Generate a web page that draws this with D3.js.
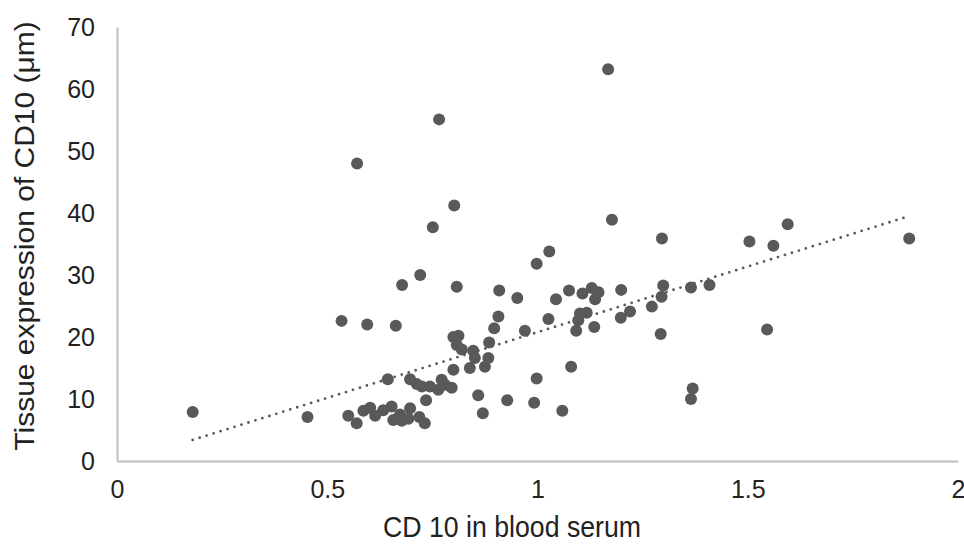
<!DOCTYPE html>
<html>
<head>
<meta charset="utf-8">
<script src="https://cdn.jsdelivr.net/npm/d3@7"></script>
<style>
  html, body { margin: 0; padding: 0; background: #fff; }
  svg { display: block; }
  text { font-family: "Liberation Sans", Arial, sans-serif; fill: #222; }
</style>
</head>
<body>
<svg id="chart" width="964" height="544"></svg>
<script>
// ---- data ----
const serumCD10 = [
  0.18, 0.453, 0.534, 0.550, 0.570, 0.571, 0.586, 0.595, 0.602, 0.614,
  0.633, 0.644, 0.653, 0.657, 0.663, 0.673, 0.677, 0.678, 0.693, 0.697,
  0.697, 0.713, 0.719, 0.721, 0.725, 0.732, 0.735, 0.744, 0.751, 0.764,
  0.766, 0.772, 0.780, 0.796, 0.800, 0.800, 0.802, 0.808, 0.808, 0.812,
  0.820, 0.839, 0.847, 0.851, 0.859, 0.870, 0.875, 0.883, 0.885, 0.897,
  0.907, 0.909, 0.928, 0.952, 0.970, 0.992, 0.998, 0.998, 1.026, 1.028,
  1.044, 1.059, 1.075, 1.080, 1.092, 1.097, 1.101, 1.107, 1.117, 1.129,
  1.135, 1.137, 1.145, 1.168, 1.177, 1.198, 1.199, 1.220, 1.272, 1.293,
  1.295, 1.296, 1.299, 1.365, 1.365, 1.369, 1.409, 1.504, 1.546, 1.561,
  1.595, 1.884
];
const tissueCD10 = [
  7.9, 7.1, 22.6, 7.3, 6.1, 48.0, 8.1, 22.0, 8.6, 7.3,
  8.2, 13.2, 8.8, 6.6, 21.8, 7.5, 6.5, 28.4, 6.8, 8.5,
  13.2, 12.4, 7.1, 30.0, 12.0, 6.1, 9.8, 12.0, 37.7, 11.5,
  55.1, 13.1, 12.3, 11.8, 14.7, 20.0, 41.2, 18.7, 28.1, 20.2,
  18.0, 15.0, 17.8, 16.6, 10.6, 7.7, 15.2, 16.6, 19.1, 21.4,
  23.3, 27.5, 9.8, 26.3, 21.0, 9.4, 13.3, 31.8, 22.9, 33.8,
  26.1, 8.1, 27.5, 15.2, 21.0, 22.7, 23.8, 27.0, 23.9, 27.9,
  21.6, 26.1, 27.2, 63.2, 38.9, 23.1, 27.6, 24.1, 24.9, 20.5,
  26.5, 35.9, 28.3, 28.0, 10.0, 11.7, 28.4, 35.4, 21.2, 34.7,
  38.2, 35.9
];
const trendX = [0.18, 1.884];
const trendY = [3.4, 39.5];
const xTicks = [0, 0.5, 1, 1.5, 2];
const yTicks = [0, 10, 20, 30, 40, 50, 60, 70];
const xTitle = "CD 10 in blood serum";
const yTitle = "Tissue expression of CD10 (μm)";

// ---- drawing ----
const svg = d3.select("#chart");
const x = d3.scaleLinear().domain([0, 2]).range([117, 958]);
const y = d3.scaleLinear().domain([0, 70]).range([461, 27]);

const axisColor = "#bfbfbf";
const markColor = "#595959";

// x axis
const gx = svg.append("g")
  .attr("transform", `translate(0,${y(0)})`)
  .call(d3.axisBottom(x).tickValues(xTicks).tickFormat(d3.format("")).tickSize(0).tickPadding(19));
gx.select(".domain").attr("stroke", axisColor).attr("stroke-width", 2);
gx.selectAll("text").attr("font-size", 25).attr("fill", "#222")
  .attr("font-family", "Liberation Sans, Arial, sans-serif");

// y axis
const gy = svg.append("g")
  .attr("transform", `translate(${x(0)},0)`)
  .call(d3.axisLeft(y).tickValues(yTicks).tickFormat(d3.format("")).tickSize(0).tickPadding(22));
gy.select(".domain").attr("stroke", axisColor).attr("stroke-width", 2);
gy.selectAll("text").attr("font-size", 25).attr("fill", "#222")
  .attr("font-family", "Liberation Sans, Arial, sans-serif");

// points
const pts = serumCD10.map((v, i) => ({ x: v, y: tissueCD10[i] }));
svg.append("g").selectAll("circle")
  .data(pts).join("circle")
  .attr("cx", d => x(d.x))
  .attr("cy", d => y(d.y))
  .attr("r", 6)
  .attr("fill", markColor);

// trend line (dotted)
const trend = trendX.map((v, i) => [v, trendY[i]]);
svg.append("path")
  .datum(trend)
  .attr("d", d3.line().x(d => x(d[0])).y(d => y(d[1])))
  .attr("fill", "none")
  .attr("stroke", markColor)
  .attr("stroke-width", 2.8)
  .attr("stroke-linecap", "round")
  .attr("stroke-dasharray", "0 7.3");

// axis titles
svg.append("text")
  .attr("transform", "translate(512,537) scale(0.92,1)")
  .attr("text-anchor", "middle")
  .attr("font-size", 29)
  .text(xTitle);

svg.append("text")
  .attr("transform", "translate(33.5,236) scale(0.92,1) rotate(-90)")
  .attr("text-anchor", "middle")
  .attr("font-size", 30)
  .text(yTitle);
</script>
</body>
</html>
